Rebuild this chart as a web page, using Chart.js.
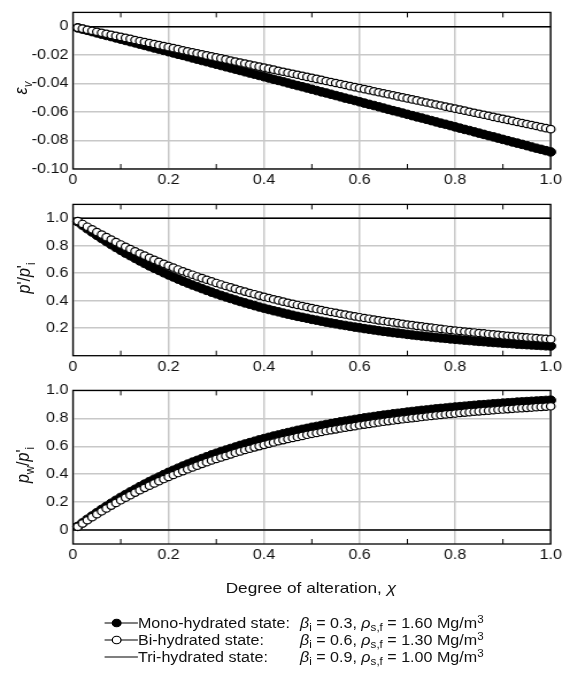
<!DOCTYPE html>
<html>
<head>
<meta charset="utf-8">
<script src="https://cdn.jsdelivr.net/npm/chart.js@4.4.1/dist/chart.umd.min.js"></script>
<style>
  html, body { margin: 0; padding: 0; background: #fff; width: 570px; height: 675px; overflow: hidden; }
  #fig { position: absolute; left: 0; top: 0; width: 496px; height: 675px;
         transform: scaleX(1.1492); transform-origin: 0 0;
         font-family: "Liberation Sans", Arial, Helvetica, sans-serif; color: #111; }
  canvas { position: absolute; left: 0; }
  .ytitle { position: absolute; white-space: nowrap; font-size: 16px; line-height: 16px;
            transform: translate(-50%, -50%) rotate(-90deg); }
  .xtitle { position: absolute; white-space: nowrap; font-size: 15px; line-height: 16px;
            transform: translateX(-50%); }
  .row { position: absolute; font-size: 14px; line-height: 16px; white-space: nowrap; }
  .row .c2 { position: absolute; top: 0; }
  sub { font-size: 72%; vertical-align: baseline; position: relative; top: 0.32em; }
  sup { font-size: 72%; vertical-align: baseline; position: relative; top: -0.45em; }
  svg { position: absolute; overflow: visible; }
</style>
</head>
<body>
<div id="fig">
  <canvas id="c1" width="496" height="192" style="top:0px"></canvas>
  <canvas id="c2" width="496" height="186" style="top:192px"></canvas>
  <canvas id="c3" width="496" height="192" style="top:378px"></canvas>

  <div class="ytitle" style="left:19px; top:88px;"><i>ε</i><sub><i>v</i></sub></div>
  <div class="ytitle" style="left:21.5px; top:278px;"><i>p</i>'/<i>p</i>'<sub>i</sub></div>
  <div class="ytitle" style="left:21px; top:465px;"><i>p</i><sub>w</sub>/<i>p</i>'<sub>i</sub></div>
  <div class="xtitle" style="left:270.5px; top:580px;">Degree of alteration, <i>χ</i></div>
  <div id="legend"></div>
</div>

<script>
// Degree of alteration (x values of the markers)
const chi = [0.01,0.02,0.03,0.04,0.05,0.06,0.07,0.08,0.09,0.10,
  0.11,0.12,0.13,0.14,0.15,0.16,0.17,0.18,0.19,0.20,
  0.21,0.22,0.23,0.24,0.25,0.26,0.27,0.28,0.29,0.30,
  0.31,0.32,0.33,0.34,0.35,0.36,0.37,0.38,0.39,0.40,
  0.41,0.42,0.43,0.44,0.45,0.46,0.47,0.48,0.49,0.50,
  0.51,0.52,0.53,0.54,0.55,0.56,0.57,0.58,0.59,0.60,
  0.61,0.62,0.63,0.64,0.65,0.66,0.67,0.68,0.69,0.70,
  0.71,0.72,0.73,0.74,0.75,0.76,0.77,0.78,0.79,0.80,
  0.81,0.82,0.83,0.84,0.85,0.86,0.87,0.88,0.89,0.90,
  0.91,0.92,0.93,0.94,0.95,0.96,0.97,0.98,0.99,1.00];

// Volumetric strain
const epsMono = [-0.0009,-0.0018,-0.0026,-0.0035,-0.0044,-0.0053,-0.0062,-0.0070,-0.0079,-0.0088,
  -0.0097,-0.0106,-0.0114,-0.0123,-0.0132,-0.0141,-0.0150,-0.0158,-0.0167,-0.0176,
  -0.0185,-0.0194,-0.0202,-0.0211,-0.0220,-0.0229,-0.0238,-0.0246,-0.0255,-0.0264,
  -0.0273,-0.0282,-0.0290,-0.0299,-0.0308,-0.0317,-0.0326,-0.0334,-0.0343,-0.0352,
  -0.0361,-0.0370,-0.0378,-0.0387,-0.0396,-0.0405,-0.0414,-0.0422,-0.0431,-0.0440,
  -0.0449,-0.0458,-0.0466,-0.0475,-0.0484,-0.0493,-0.0502,-0.0510,-0.0519,-0.0528,
  -0.0537,-0.0546,-0.0554,-0.0563,-0.0572,-0.0581,-0.0590,-0.0598,-0.0607,-0.0616,
  -0.0625,-0.0634,-0.0642,-0.0651,-0.0660,-0.0669,-0.0678,-0.0686,-0.0695,-0.0704,
  -0.0713,-0.0722,-0.0730,-0.0739,-0.0748,-0.0757,-0.0766,-0.0774,-0.0783,-0.0792,
  -0.0801,-0.0810,-0.0818,-0.0827,-0.0836,-0.0845,-0.0854,-0.0862,-0.0871,-0.0880];
const epsBi = [-0.0007,-0.0014,-0.0022,-0.0029,-0.0036,-0.0043,-0.0050,-0.0058,-0.0065,-0.0072,
  -0.0079,-0.0086,-0.0094,-0.0101,-0.0108,-0.0115,-0.0122,-0.0130,-0.0137,-0.0144,
  -0.0151,-0.0158,-0.0166,-0.0173,-0.0180,-0.0187,-0.0194,-0.0202,-0.0209,-0.0216,
  -0.0223,-0.0230,-0.0238,-0.0245,-0.0252,-0.0259,-0.0266,-0.0274,-0.0281,-0.0288,
  -0.0295,-0.0302,-0.0310,-0.0317,-0.0324,-0.0331,-0.0338,-0.0346,-0.0353,-0.0360,
  -0.0367,-0.0374,-0.0382,-0.0389,-0.0396,-0.0403,-0.0410,-0.0418,-0.0425,-0.0432,
  -0.0439,-0.0446,-0.0454,-0.0461,-0.0468,-0.0475,-0.0482,-0.0490,-0.0497,-0.0504,
  -0.0511,-0.0518,-0.0526,-0.0533,-0.0540,-0.0547,-0.0554,-0.0562,-0.0569,-0.0576,
  -0.0583,-0.0590,-0.0598,-0.0605,-0.0612,-0.0619,-0.0626,-0.0634,-0.0641,-0.0648,
  -0.0655,-0.0662,-0.0670,-0.0677,-0.0684,-0.0691,-0.0698,-0.0706,-0.0713,-0.0720];

// Normalised effective mean stress p'/p'i
const pMono = [0.974,0.948,0.923,0.899,0.875,0.852,0.830,0.808,0.787,0.766,
  0.746,0.727,0.708,0.689,0.671,0.653,0.636,0.620,0.603,0.587,
  0.572,0.557,0.542,0.528,0.514,0.501,0.488,0.475,0.462,0.450,
  0.438,0.427,0.416,0.405,0.394,0.384,0.374,0.364,0.354,0.345,
  0.336,0.327,0.319,0.310,0.302,0.294,0.286,0.279,0.272,0.264,
  0.258,0.251,0.244,0.238,0.232,0.225,0.220,0.214,0.208,0.203,
  0.197,0.192,0.187,0.182,0.177,0.173,0.168,0.164,0.160,0.155,
  0.151,0.147,0.143,0.140,0.136,0.132,0.129,0.126,0.122,0.119,
  0.116,0.113,0.110,0.107,0.104,0.102,0.099,0.096,0.094,0.091,
  0.089,0.087,0.084,0.082,0.080,0.078,0.076,0.074,0.072,0.070];
const pBi = [0.979,0.958,0.938,0.919,0.899,0.881,0.862,0.844,0.826,0.809,
  0.792,0.775,0.759,0.743,0.728,0.712,0.697,0.683,0.668,0.654,
  0.641,0.627,0.614,0.601,0.589,0.576,0.564,0.552,0.541,0.529,
  0.518,0.507,0.497,0.486,0.476,0.466,0.456,0.447,0.437,0.428,
  0.419,0.410,0.402,0.393,0.385,0.377,0.369,0.361,0.354,0.346,
  0.339,0.332,0.325,0.318,0.312,0.305,0.299,0.292,0.286,0.280,
  0.274,0.269,0.263,0.257,0.252,0.247,0.242,0.237,0.232,0.227,
  0.222,0.217,0.213,0.208,0.204,0.200,0.195,0.191,0.187,0.183,
  0.180,0.176,0.172,0.169,0.165,0.162,0.158,0.155,0.152,0.148,
  0.145,0.142,0.139,0.136,0.133,0.131,0.128,0.125,0.123,0.120];

// Normalised pore water pressure pw/p'i
const pwMono = [0.026,0.052,0.077,0.101,0.125,0.148,0.170,0.192,0.213,0.234,
  0.254,0.273,0.292,0.311,0.329,0.347,0.364,0.380,0.397,0.413,
  0.428,0.443,0.458,0.472,0.486,0.499,0.512,0.525,0.538,0.550,
  0.562,0.573,0.584,0.595,0.606,0.616,0.626,0.636,0.646,0.655,
  0.664,0.673,0.681,0.690,0.698,0.706,0.714,0.721,0.728,0.736,
  0.742,0.749,0.756,0.762,0.768,0.775,0.780,0.786,0.792,0.797,
  0.803,0.808,0.813,0.818,0.823,0.827,0.832,0.836,0.840,0.845,
  0.849,0.853,0.857,0.860,0.864,0.868,0.871,0.874,0.878,0.881,
  0.884,0.887,0.890,0.893,0.896,0.898,0.901,0.904,0.906,0.909,
  0.911,0.913,0.916,0.918,0.920,0.922,0.924,0.926,0.928,0.930];
const pwBi = [0.024,0.047,0.070,0.092,0.113,0.134,0.155,0.175,0.194,0.213,
  0.232,0.250,0.268,0.285,0.302,0.318,0.334,0.350,0.365,0.380,
  0.394,0.408,0.422,0.435,0.448,0.461,0.474,0.486,0.498,0.509,
  0.520,0.531,0.542,0.553,0.563,0.573,0.582,0.592,0.601,0.610,
  0.619,0.627,0.636,0.644,0.652,0.659,0.667,0.674,0.682,0.689,
  0.695,0.702,0.709,0.715,0.721,0.727,0.733,0.739,0.744,0.750,
  0.755,0.760,0.765,0.770,0.775,0.780,0.784,0.789,0.793,0.797,
  0.801,0.805,0.809,0.813,0.817,0.821,0.824,0.828,0.831,0.834,
  0.838,0.841,0.844,0.847,0.850,0.853,0.855,0.858,0.861,0.863,
  0.866,0.868,0.871,0.873,0.875,0.877,0.880,0.882,0.884,0.886];

// Tri-hydrated state: no change with alteration
const triChi = [0, 1];
const triEps = [0, 0];
const triP = [1, 1];
const triPw = [0, 0];

// Axis ticks and labels
const xTicks = [0, 0.2, 0.4, 0.6, 0.8, 1.0];
const xTickLabels = ['0', '0.2', '0.4', '0.6', '0.8', '1.0'];
const xMinorTicks = [0.1, 0.3, 0.5, 0.7, 0.9];
const epsTicks = [0, -0.02, -0.04, -0.06, -0.08, -0.10];
const epsTickLabels = ['0', '-0.02', '-0.04', '-0.06', '-0.08', '-0.10'];
const pTicks = [0.2, 0.4, 0.6, 0.8, 1.0];
const pTickLabels = ['0.2', '0.4', '0.6', '0.8', '1.0'];
const pwTicks = [0, 0.2, 0.4, 0.6, 0.8, 1.0];
const pwTickLabels = ['0', '0.2', '0.4', '0.6', '0.8', '1.0'];

// Legend entries
const stateNames = ['Mono-hydrated state:', 'Bi-hydrated state:', 'Tri-hydrated state:'];
const betaI = ['0.3', '0.6', '0.9'];
const rhoSF = ['1.60', '1.30', '1.00'];

Chart.defaults.font.family = '"Liberation Sans", Arial, Helvetica, sans-serif';
Chart.defaults.font.size = 14;
Chart.defaults.color = '#111';

const FIG_W = 496;
const PLOT_LEFT = 63.5;
const PLOT_RIGHT = 479.2;
const GRID = '#c8c8c8';

const toPoints = (xs, ys) => xs.map((x, i) => ({ x: x, y: ys[i] }));

// Black frame round the plot area and short inward minor ticks on top and bottom
const framePlugin = {
  id: 'frame',
  beforeDatasetsDraw(chart) {
    const a = chart.chartArea, ctx = chart.ctx, xs = chart.scales.x;
    ctx.save();
    ctx.strokeStyle = '#000';
    ctx.lineWidth = 1;
    ctx.beginPath();
    xMinorTicks.forEach(v => {
      const px = xs.getPixelForValue(v);
      ctx.moveTo(px, a.top); ctx.lineTo(px, a.top + 5);
      ctx.moveTo(px, a.bottom); ctx.lineTo(px, a.bottom - 5);
    });
    ctx.stroke();
    ctx.lineWidth = 1.3;
    ctx.strokeRect(a.left, a.top, a.right - a.left, a.bottom - a.top);
    ctx.restore();
  }
};

function makePanel(id, canvasTop, canvasH, plotTop, plotBottom, yMin, yMax, yTicks, yLabels, mono, bi, tri) {
  const xAxisH = canvasTop + canvasH - plotBottom;
  return new Chart(document.getElementById(id), {
    type: 'scatter',
    data: {
      datasets: [
        { label: 'Bi-hydrated', data: toPoints(chi, bi), showLine: false, order: 0, clip: false,
          pointRadius: 3.7, pointBorderWidth: 1.2, pointBackgroundColor: '#fff', pointBorderColor: '#000' },
        { label: 'Mono-hydrated', data: toPoints(chi, mono), showLine: false, order: 1, clip: false,
          pointRadius: 4.3, pointBorderWidth: 1, pointBackgroundColor: '#000', pointBorderColor: '#000' },
        { label: 'Tri-hydrated', data: toPoints(triChi, tri), showLine: true, order: 2, clip: false,
          borderColor: '#000', borderWidth: 1.5, pointRadius: 0 }
      ]
    },
    options: {
      responsive: false,
      animation: false,
      events: [],
      layout: { padding: { top: plotTop - canvasTop, right: FIG_W - PLOT_RIGHT, left: 0, bottom: 0 } },
      plugins: { legend: { display: false }, tooltip: { enabled: false } },
      scales: {
        x: {
          type: 'linear', min: 0, max: 1,
          afterBuildTicks: s => { s.ticks = xTicks.map(v => ({ value: v })); },
          afterFit: s => { s.height = xAxisH; },
          ticks: { padding: 3, maxRotation: 0, autoSkip: false,
                   callback: (v, i) => xTickLabels[i] },
          grid: { color: GRID, lineWidth: 1.5, drawTicks: false },
          border: { display: false }
        },
        y: {
          type: 'linear', min: yMin, max: yMax,
          afterBuildTicks: s => { s.ticks = yTicks.map(v => ({ value: v })); },
          afterFit: s => { s.width = PLOT_LEFT; },
          ticks: { padding: 4, autoSkip: false, callback: (v, i) => yLabels[i] },
          grid: { color: GRID, lineWidth: 1.5, drawTicks: false },
          border: { display: false }
        }
      }
    },
    plugins: [framePlugin]
  });
}

makePanel('c1', 0, 192, 9, 169, -0.10, 0.01, epsTicks, epsTickLabels, epsMono, epsBi, triEps);
makePanel('c2', 192, 186, 196.7, 355.7, 0, 1.1, pTicks, pTickLabels, pMono, pBi, triP);
makePanel('c3', 378, 192, 384, 544, -0.1, 1.0, pwTicks, pwTickLabels, pwMono, pwBi, triPw);

// Legend below the panels
const legend = document.getElementById('legend');
const rowCentres = [623, 640, 657];
const symbols = ['#000', '#fff', null];
stateNames.forEach((name, i) => {
  const cy = rowCentres[i];
  const fill = symbols[i];
  const mark = fill ? `<circle cx="10.5" cy="5" r="3.8" fill="${fill}" stroke="#000" stroke-width="1.1"/>` : '';
  legend.insertAdjacentHTML('beforeend',
    `<svg width="29" height="10" style="left:90.5px; top:${cy - 5}px">` +
    `<line x1="0" y1="5" x2="29" y2="5" stroke="#000" stroke-width="1.2"/>${mark}</svg>` +
    `<div class="row" style="left:120px; top:${cy - 8}px">${name}` +
    `<span class="c2" style="left:141px"><i>β</i><sub>i</sub> = ${betaI[i]}, <i>ρ</i><sub>s,f</sub> = ${rhoSF[i]} Mg/m<sup>3</sup></span></div>`);
});
</script>
</body>
</html>
